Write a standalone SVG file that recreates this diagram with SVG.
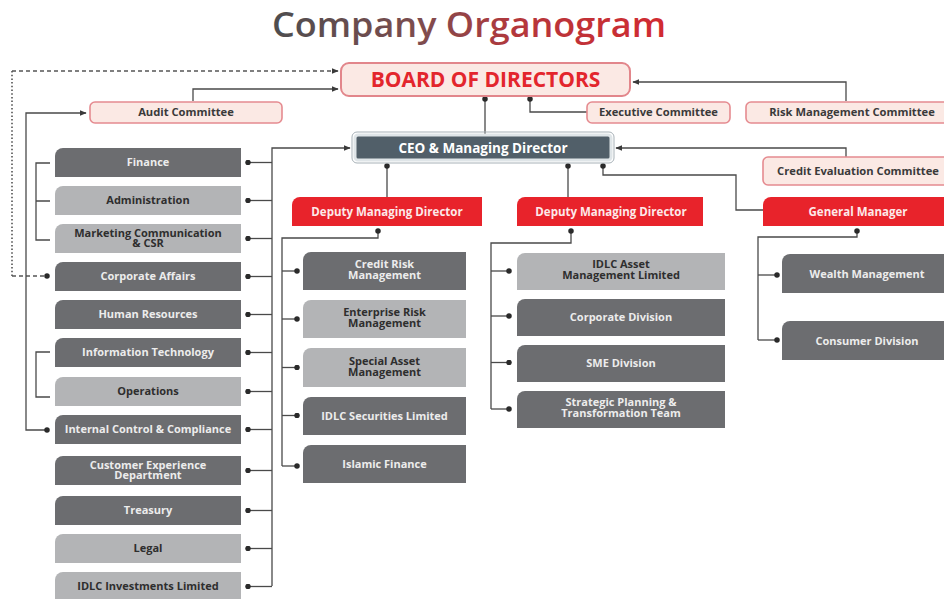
<svg xmlns="http://www.w3.org/2000/svg" width="944" height="599" viewBox="0 0 944 599">
  <defs>
    <linearGradient id="titleGrad" gradientUnits="userSpaceOnUse" x1="272" y1="0" x2="666" y2="0">
      <stop offset="0" stop-color="#4d4d4f"/>
      <stop offset="0.38" stop-color="#7e4c4e"/>
      <stop offset="0.62" stop-color="#b4373c"/>
      <stop offset="1" stop-color="#d22a31"/>
    </linearGradient>
    <marker id="arr" viewBox="0 0 10 10" refX="9" refY="5" markerWidth="7" markerHeight="7" markerUnits="userSpaceOnUse" orient="auto">
      <path d="M0,1 L10,5 L0,9 Z" fill="#3a3a3a"/>
    </marker>
    <marker id="dot" viewBox="0 0 10 10" refX="5" refY="5" markerWidth="5.5" markerHeight="5.5" markerUnits="userSpaceOnUse">
      <circle cx="5" cy="5" r="5" fill="#2a2a2a"/>
    </marker>
  </defs>
  <style>
    text { font-family: "Open Sans", "Liberation Sans", sans-serif; font-weight: bold; text-anchor: middle; }
    .title { font-weight: 600; font-size: 34px; fill: url(#titleGrad); text-anchor: start; }
    .board { fill: #fbe9e4; stroke: #e2868b; stroke-width: 2; }
    .boardTxt { fill: #e3262d; font-size: 21px; }
    .cmt { fill: #fbe9e4; stroke: #e58b90; stroke-width: 1.6; }
    .cmtTxt { fill: #3a3a3a; font-size: 11.2px; }
    .ceo { fill: #515f69; stroke: #dfe5e8; stroke-width: 3; }
    .ceoOut { fill: none; stroke: #a7b1b7; stroke-width: 1; }
    .ceoTxt { fill: #ffffff; font-size: 13.5px; }
    .red { fill: #e8232b; }
    .dk { fill: #6c6d70; }
    .lt { fill: #b3b4b6; }
    .wTxt { fill: #ececec; font-size: 11px; }
    .bTxt { fill: #2e2e2e; font-size: 11px; }
    .rTxt { fill: #fde9e9; font-size: 11.5px; }
    .ln { fill: none; stroke: #4a4a4a; stroke-width: 1.3; }
    .dash { fill: none; stroke: #555; stroke-width: 1.3; stroke-dasharray: 4 3; }
    .dotted { fill: none; stroke: #666; stroke-width: 1.8; stroke-dasharray: 1.5 2.2; }
  </style>

  <rect width="944" height="599" fill="#ffffff"/>

  <text class="title" x="272" y="37" textLength="394" lengthAdjust="spacingAndGlyphs">Company Organogram</text>

  <!-- connectors -->
  <g id="connectors">
    <!-- dotted reporting line from Corporate Affairs to the board -->
    <path class="dotted" d="M12,276 V71"/>
    <path class="dash" d="M12,71 H338" marker-end="url(#arr)"/>
    <path class="dash" d="M12,276 H47" marker-end="url(#dot)"/>

    <!-- committees to board -->
    <path class="ln" d="M193,101 V89 H338" marker-end="url(#arr)"/>
    <path class="ln" d="M587,112 H530 V99" marker-end="url(#dot)"/>
    <path class="ln" d="M846,101 V82 H633" marker-end="url(#arr)"/>
    <path class="ln" d="M485,134 V99" marker-end="url(#dot)"/>

    <!-- left trunk to audit committee -->
    <path class="ln" d="M47,430 H26 V113 H86" marker-end="url(#arr)" marker-start="url(#dot)"/>

    <!-- brackets -->
    <path class="ln" d="M50,163 H36 V240 H50 M36,201 H50"/>
    <path class="ln" d="M50,352 H36 V397 H50"/>

    <!-- to CEO -->
    <path class="ln" d="M846,157 V148 H616" marker-end="url(#arr)"/>
    <path class="ln" d="M763,210 H736 V175 H603 V166" marker-end="url(#dot)"/>
    <path class="ln" d="M387,197 V166" marker-end="url(#dot)"/>
    <path class="ln" d="M568,197 V166" marker-end="url(#dot)"/>
    <path class="ln" d="M272,586 V148 H350" marker-end="url(#arr)"/>

    <!-- left column spurs -->
    <g class="ln" marker-start="url(#dot)">
      <path d="M248,162.5 H272"/>
      <path d="M248,200.5 H272"/>
      <path d="M248,238.5 H272"/>
      <path d="M248,276.5 H272"/>
      <path d="M248,314.5 H272"/>
      <path d="M248,352.5 H272"/>
      <path d="M248,391.5 H272"/>
      <path d="M248,429.5 H272"/>
      <path d="M248,470.5 H272"/>
      <path d="M248,510.5 H272"/>
      <path d="M248,548.5 H272"/>
      <path d="M248,586.5 H272"/>
    </g>

    <!-- deputy MD 1 branch -->
    <path class="ln" d="M282,466 V238 H378 V231" marker-end="url(#dot)"/>
    <g class="ln" marker-end="url(#dot)">
      <path d="M282,271 H297"/>
      <path d="M282,319 H297"/>
      <path d="M282,367.5 H297"/>
      <path d="M282,415.5 H297"/>
      <path d="M282,466 H297"/>
    </g>

    <!-- deputy MD 2 branch -->
    <path class="ln" d="M491,409 V243 H571 V231" marker-end="url(#dot)"/>
    <g class="ln" marker-end="url(#dot)">
      <path d="M491,271 H509"/>
      <path d="M491,316 H509"/>
      <path d="M491,362.5 H509"/>
      <path d="M491,409 H509"/>
    </g>

    <!-- general manager branch -->
    <path class="ln" d="M758,340 V237 H857 V231" marker-end="url(#dot)"/>
    <g class="ln" marker-end="url(#dot)">
      <path d="M758,275 H777"/>
      <path d="M758,340 H777"/>
    </g>
  </g>

  <!-- board and committees -->
  <g id="board">
    <rect class="board" x="341" y="63" width="289" height="33" rx="8"/>
    <text class="boardTxt" x="485.5" y="87">BOARD OF DIRECTORS</text>
  </g>
  <g id="audit-committee">
    <rect class="cmt" x="90" y="102" width="192" height="21" rx="5"/>
    <text class="cmtTxt" x="186" y="116">Audit Committee</text>
  </g>
  <g id="executive-committee">
    <rect class="cmt" x="587" y="102" width="143" height="21" rx="5"/>
    <text class="cmtTxt" x="658.5" y="116">Executive Committee</text>
  </g>
  <g id="risk-committee">
    <rect class="cmt" x="746" y="102" width="205" height="21" rx="5"/>
    <text class="cmtTxt" x="852" y="116">Risk Management Committee</text>
  </g>
  <g id="credit-evaluation-committee">
    <rect class="cmt" x="763" y="157" width="192" height="28" rx="5"/>
    <text class="cmtTxt" x="858" y="175">Credit Evaluation Committee</text>
  </g>

  <g id="ceo">
    <rect class="ceoOut" x="352" y="132" width="262" height="31" rx="5"/>
    <rect class="ceo" x="355" y="135" width="256" height="25" rx="3"/>
    <text class="ceoTxt" x="483" y="152.5">CEO &amp; Managing Director</text>
  </g>

  <!-- second tier -->
  <g id="dmd-1">
    <path class="red" d="M292,205 A8,8 0 0 1 300,197 H482 V226 H292 Z"/>
    <text class="rTxt" x="387" y="215.5">Deputy Managing Director</text>
  </g>
  <g id="dmd-2">
    <path class="red" d="M517,205 A8,8 0 0 1 525,197 H703 V226 H517 Z"/>
    <text class="rTxt" x="611" y="215.5">Deputy Managing Director</text>
  </g>
  <g id="general-manager">
    <path class="red" d="M763,205 A8,8 0 0 1 771,197 H952 V226 H763 Z"/>
    <text class="rTxt" x="858" y="215.5">General Manager</text>
  </g>

  <!-- departments reporting to the CEO -->
  <g id="finance">
    <path class="dk" d="M55,156 A8,8 0 0 1 63,148 H241 V177 H55 Z"/>
    <text class="wTxt" x="148" y="166">Finance</text>
  </g>
  <g id="administration">
    <path class="lt" d="M55,194 A8,8 0 0 1 63,186 H241 V215 H55 Z"/>
    <text class="bTxt" x="148" y="204">Administration</text>
  </g>
  <g id="marketing">
    <path class="lt" d="M55,232 A8,8 0 0 1 63,224 H241 V253 H55 Z"/>
    <text class="bTxt" x="148" y="237">Marketing Communication<tspan x="148" dy="10">&amp; CSR</tspan></text>
  </g>
  <g id="corporate-affairs">
    <path class="dk" d="M55,270 A8,8 0 0 1 63,262 H241 V291 H55 Z"/>
    <text class="wTxt" x="148" y="280">Corporate Affairs</text>
  </g>
  <g id="human-resources">
    <path class="dk" d="M55,308 A8,8 0 0 1 63,300 H241 V329 H55 Z"/>
    <text class="wTxt" x="148" y="318">Human Resources</text>
  </g>
  <g id="information-technology">
    <path class="dk" d="M55,346 A8,8 0 0 1 63,338 H241 V367 H55 Z"/>
    <text class="wTxt" x="148" y="356">Information Technology</text>
  </g>
  <g id="operations">
    <path class="lt" d="M55,385 A8,8 0 0 1 63,377 H241 V406 H55 Z"/>
    <text class="bTxt" x="148" y="395">Operations</text>
  </g>
  <g id="internal-control">
    <path class="dk" d="M55,423 A8,8 0 0 1 63,415 H241 V444 H55 Z"/>
    <text class="wTxt" x="148" y="433">Internal Control &amp; Compliance</text>
  </g>
  <g id="customer-experience">
    <path class="dk" d="M55,464 A8,8 0 0 1 63,456 H241 V485 H55 Z"/>
    <text class="wTxt" x="148" y="469">Customer Experience<tspan x="148" dy="10">Department</tspan></text>
  </g>
  <g id="treasury">
    <path class="dk" d="M55,504 A8,8 0 0 1 63,496 H241 V525 H55 Z"/>
    <text class="wTxt" x="148" y="514">Treasury</text>
  </g>
  <g id="legal">
    <path class="lt" d="M55,542 A8,8 0 0 1 63,534 H241 V563 H55 Z"/>
    <text class="bTxt" x="148" y="552">Legal</text>
  </g>
  <g id="idlc-investments">
    <path class="lt" d="M55,580 A8,8 0 0 1 63,572 H241 V601 H55 Z"/>
    <text class="bTxt" x="148" y="590">IDLC Investments Limited</text>
  </g>

  <!-- units under deputy MD 1 -->
  <g id="credit-risk">
    <path class="dk" d="M303,260 A8,8 0 0 1 311,252 H466 V290 H303 Z"/>
    <text class="wTxt" x="384.5" y="268">Credit Risk<tspan x="384.5" dy="10.5">Management</tspan></text>
  </g>
  <g id="enterprise-risk">
    <path class="lt" d="M303,308 A8,8 0 0 1 311,300 H466 V338 H303 Z"/>
    <text class="bTxt" x="384.5" y="316">Enterprise Risk<tspan x="384.5" dy="10.5">Management</tspan></text>
  </g>
  <g id="special-asset">
    <path class="lt" d="M303,356 A8,8 0 0 1 311,348 H466 V387 H303 Z"/>
    <text class="bTxt" x="384.5" y="365">Special Asset<tspan x="384.5" dy="10.5">Management</tspan></text>
  </g>
  <g id="idlc-securities">
    <path class="dk" d="M303,405 A8,8 0 0 1 311,397 H466 V435 H303 Z"/>
    <text class="wTxt" x="384.5" y="419.5">IDLC Securities Limited</text>
  </g>
  <g id="islamic-finance">
    <path class="dk" d="M303,453 A8,8 0 0 1 311,445 H466 V483 H303 Z"/>
    <text class="wTxt" x="384.5" y="467.5">Islamic Finance</text>
  </g>

  <!-- units under deputy MD 2 -->
  <g id="idlc-asset">
    <path class="lt" d="M517,261 A8,8 0 0 1 525,253 H725 V290 H517 Z"/>
    <text class="bTxt" x="621" y="268">IDLC Asset<tspan x="621" dy="10.5">Management Limited</tspan></text>
  </g>
  <g id="corporate-division">
    <path class="dk" d="M517,307 A8,8 0 0 1 525,299 H725 V336 H517 Z"/>
    <text class="wTxt" x="621" y="320.5">Corporate Division</text>
  </g>
  <g id="sme-division">
    <path class="dk" d="M517,353 A8,8 0 0 1 525,345 H725 V382 H517 Z"/>
    <text class="wTxt" x="621" y="366.5">SME Division</text>
  </g>
  <g id="strategic-planning">
    <path class="dk" d="M517,399 A8,8 0 0 1 525,391 H725 V428 H517 Z"/>
    <text class="wTxt" x="621" y="406">Strategic Planning &amp;<tspan x="621" dy="11">Transformation Team</tspan></text>
  </g>

  <!-- units under the general manager -->
  <g id="wealth-management">
    <path class="dk" d="M782,262 A8,8 0 0 1 790,254 H952 V293 H782 Z"/>
    <text class="wTxt" x="867" y="277.5">Wealth Management</text>
  </g>
  <g id="consumer-division">
    <path class="dk" d="M782,329 A8,8 0 0 1 790,321 H952 V360 H782 Z"/>
    <text class="wTxt" x="867" y="344.5">Consumer Division</text>
  </g>
</svg>
